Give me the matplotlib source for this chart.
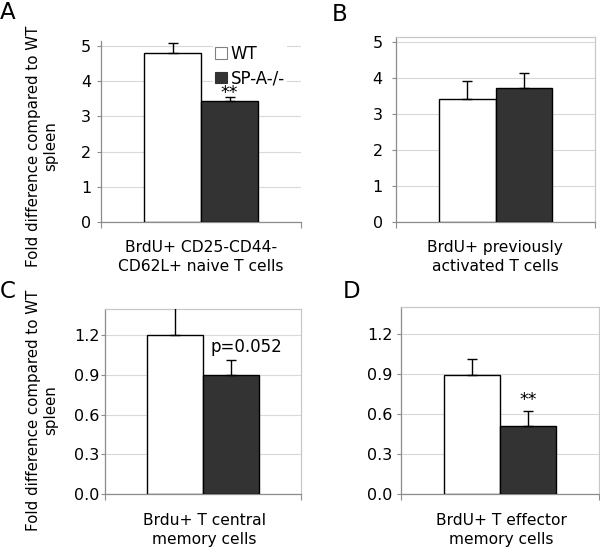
import matplotlib
matplotlib.use("Agg")
import matplotlib.pyplot as plt
from matplotlib.patches import Patch
import numpy as np

plt.rcParams['font.family'] = ['DejaVu Sans']

# ---------------- data ----------------
panel_letters = ["A", "B", "C", "D"]
categories = ["BrdU+ CD25-CD44-\nCD62L+ naive T cells",
              "BrdU+ previously\nactivated T cells",
              "Brdu+ T central\nmemory cells",
              "BrdU+ T effector\nmemory cells"]
series_names = ["WT", "SP-A-/-"]
wt_mean = [4.80, 3.43, 1.20, 0.89]
wt_err = [0.28, 0.49, 0.25, 0.12]
sp_mean = [3.42, 3.72, 0.90, 0.51]
sp_err = [0.14, 0.42, 0.115, 0.11]
annotations = ["**", "", "p=0.052", "**"]
annot_y = [3.66, None, 1.11, 0.70]
yticks_top = [0, 1, 2, 3, 4, 5]
yticks_bottom = [0.0, 0.3, 0.6, 0.9, 1.2]
ylims = [5.15, 5.15, 1.4, 1.4]
ylabel = "Fold difference compared to WT\nspleen"

W, H = 600, 548
fig = plt.figure(figsize=(W / 100, H / 100), dpi=100)

def px_axes(l, r, t, b):
    return fig.add_axes([l / W, 1 - b / H, (r - l) / W, (b - t) / H])

# pixel boxes (left, right, top, bottom)
boxes = [(101, 301, 40.5, 222), (396, 595, 37, 222),
         (105, 301, 309, 494), (401, 599, 307, 494)]
tick_pads = [4.0, 6.5, 1.0, 3.0]
label_pos = [(201, 257), (495, 257), (204, 530), (501, 530)]
letter_pos = [(0, 1), (332, 3), (0, 280), (343, 280)]

bar_w = 0.285
dark = "#333333"
grid_c = "#d9d9d9"
axis_c = "#8c8c8c"
frame_c = "#c8c8c8"

for i in range(4):
    ax = px_axes(*boxes[i])
    ax.set_xlim(-0.5, 0.5)
    ax.set_ylim(0, ylims[i])
    xw = -bar_w / 2
    xs = bar_w / 2
    ax.bar([xw], [wt_mean[i]], width=bar_w, color="white", edgecolor="black",
           linewidth=1.0, zorder=3)
    ax.bar([xs], [sp_mean[i]], width=bar_w, color=dark, edgecolor="black",
           linewidth=1.0, zorder=3)
    ax.errorbar([xw], [wt_mean[i]], yerr=[[0], [wt_err[i]]], fmt="none",
                ecolor="black", elinewidth=1.0, capsize=3.6, capthick=1.0, zorder=4)
    ax.errorbar([xs], [sp_mean[i]], yerr=[[0], [sp_err[i]]], fmt="none",
                ecolor="black", elinewidth=1.0, capsize=3.6, capthick=1.0, zorder=4)

    if i < 2:
        ax.set_yticks(yticks_top)
        ax.set_yticklabels([str(v) for v in yticks_top])
    else:
        ax.set_yticks(yticks_bottom)
        ax.set_yticklabels([f"{v:.1f}" for v in yticks_bottom])
    ax.yaxis.grid(True, color=grid_c, linewidth=0.8, zorder=0)
    ax.set_axisbelow(True)
    ax.set_xticks([-0.5, 0.5])
    ax.set_xticklabels(["", ""])
    ax.tick_params(axis="x", length=4, color=axis_c, direction="out")
    ax.tick_params(axis="y", length=3, color=axis_c, direction="out",
                   labelsize=11.5, pad=tick_pads[i])
    for s in ["left", "bottom"]:
        ax.spines[s].set_color(axis_c)
        ax.spines[s].set_linewidth(0.9)
    for s in ["top", "right"]:
        if i == 0:
            ax.spines[s].set_visible(False)
        else:
            ax.spines[s].set_color(frame_c)
            ax.spines[s].set_linewidth(0.9)

    if annotations[i]:
        is_p = annotations[i].startswith("p")
        ax.text(xs + (0.08 if is_p else 0.0), annot_y[i],
                annotations[i], ha="center", va="center",
                fontsize=12 if is_p else 12.5, zorder=8)

    lx, ly = label_pos[i]
    fig.text(lx / W, 1 - ly / H, categories[i], ha="center", va="center",
             fontsize=11.2, linespacing=1.3, multialignment="center")
    px, py = letter_pos[i]
    fig.text(px / W, 1 - py / H, panel_letters[i], ha="left", va="top",
             fontsize=16.5)

    if i == 0:
        handles = [Patch(facecolor="white", edgecolor="#808080", linewidth=0.8),
                   Patch(facecolor=dark, edgecolor=dark, linewidth=0.8)]
        leg = ax.legend(handles, series_names, loc="upper left",
                        bbox_to_anchor=(213 / W, 1 - 43 / H),
                        bbox_transform=fig.transFigure, fontsize=12,
                        frameon=True, fancybox=False, framealpha=1,
                        facecolor="white", edgecolor="none",
                        handlelength=0.72, handleheight=0.72,
                        handletextpad=0.25, labelspacing=0.4,
                        borderpad=0.1, borderaxespad=0)
        leg.set_zorder(6)

fig.text(42 / W, 1 - 146 / H, ylabel, rotation=90, ha="center", va="center",
         fontsize=10.8, linespacing=1.2, multialignment="center")
fig.text(42 / W, 1 - 410 / H, ylabel, rotation=90, ha="center", va="center",
         fontsize=10.8, linespacing=1.2, multialignment="center")

fig.savefig("out.png", dpi=100)
